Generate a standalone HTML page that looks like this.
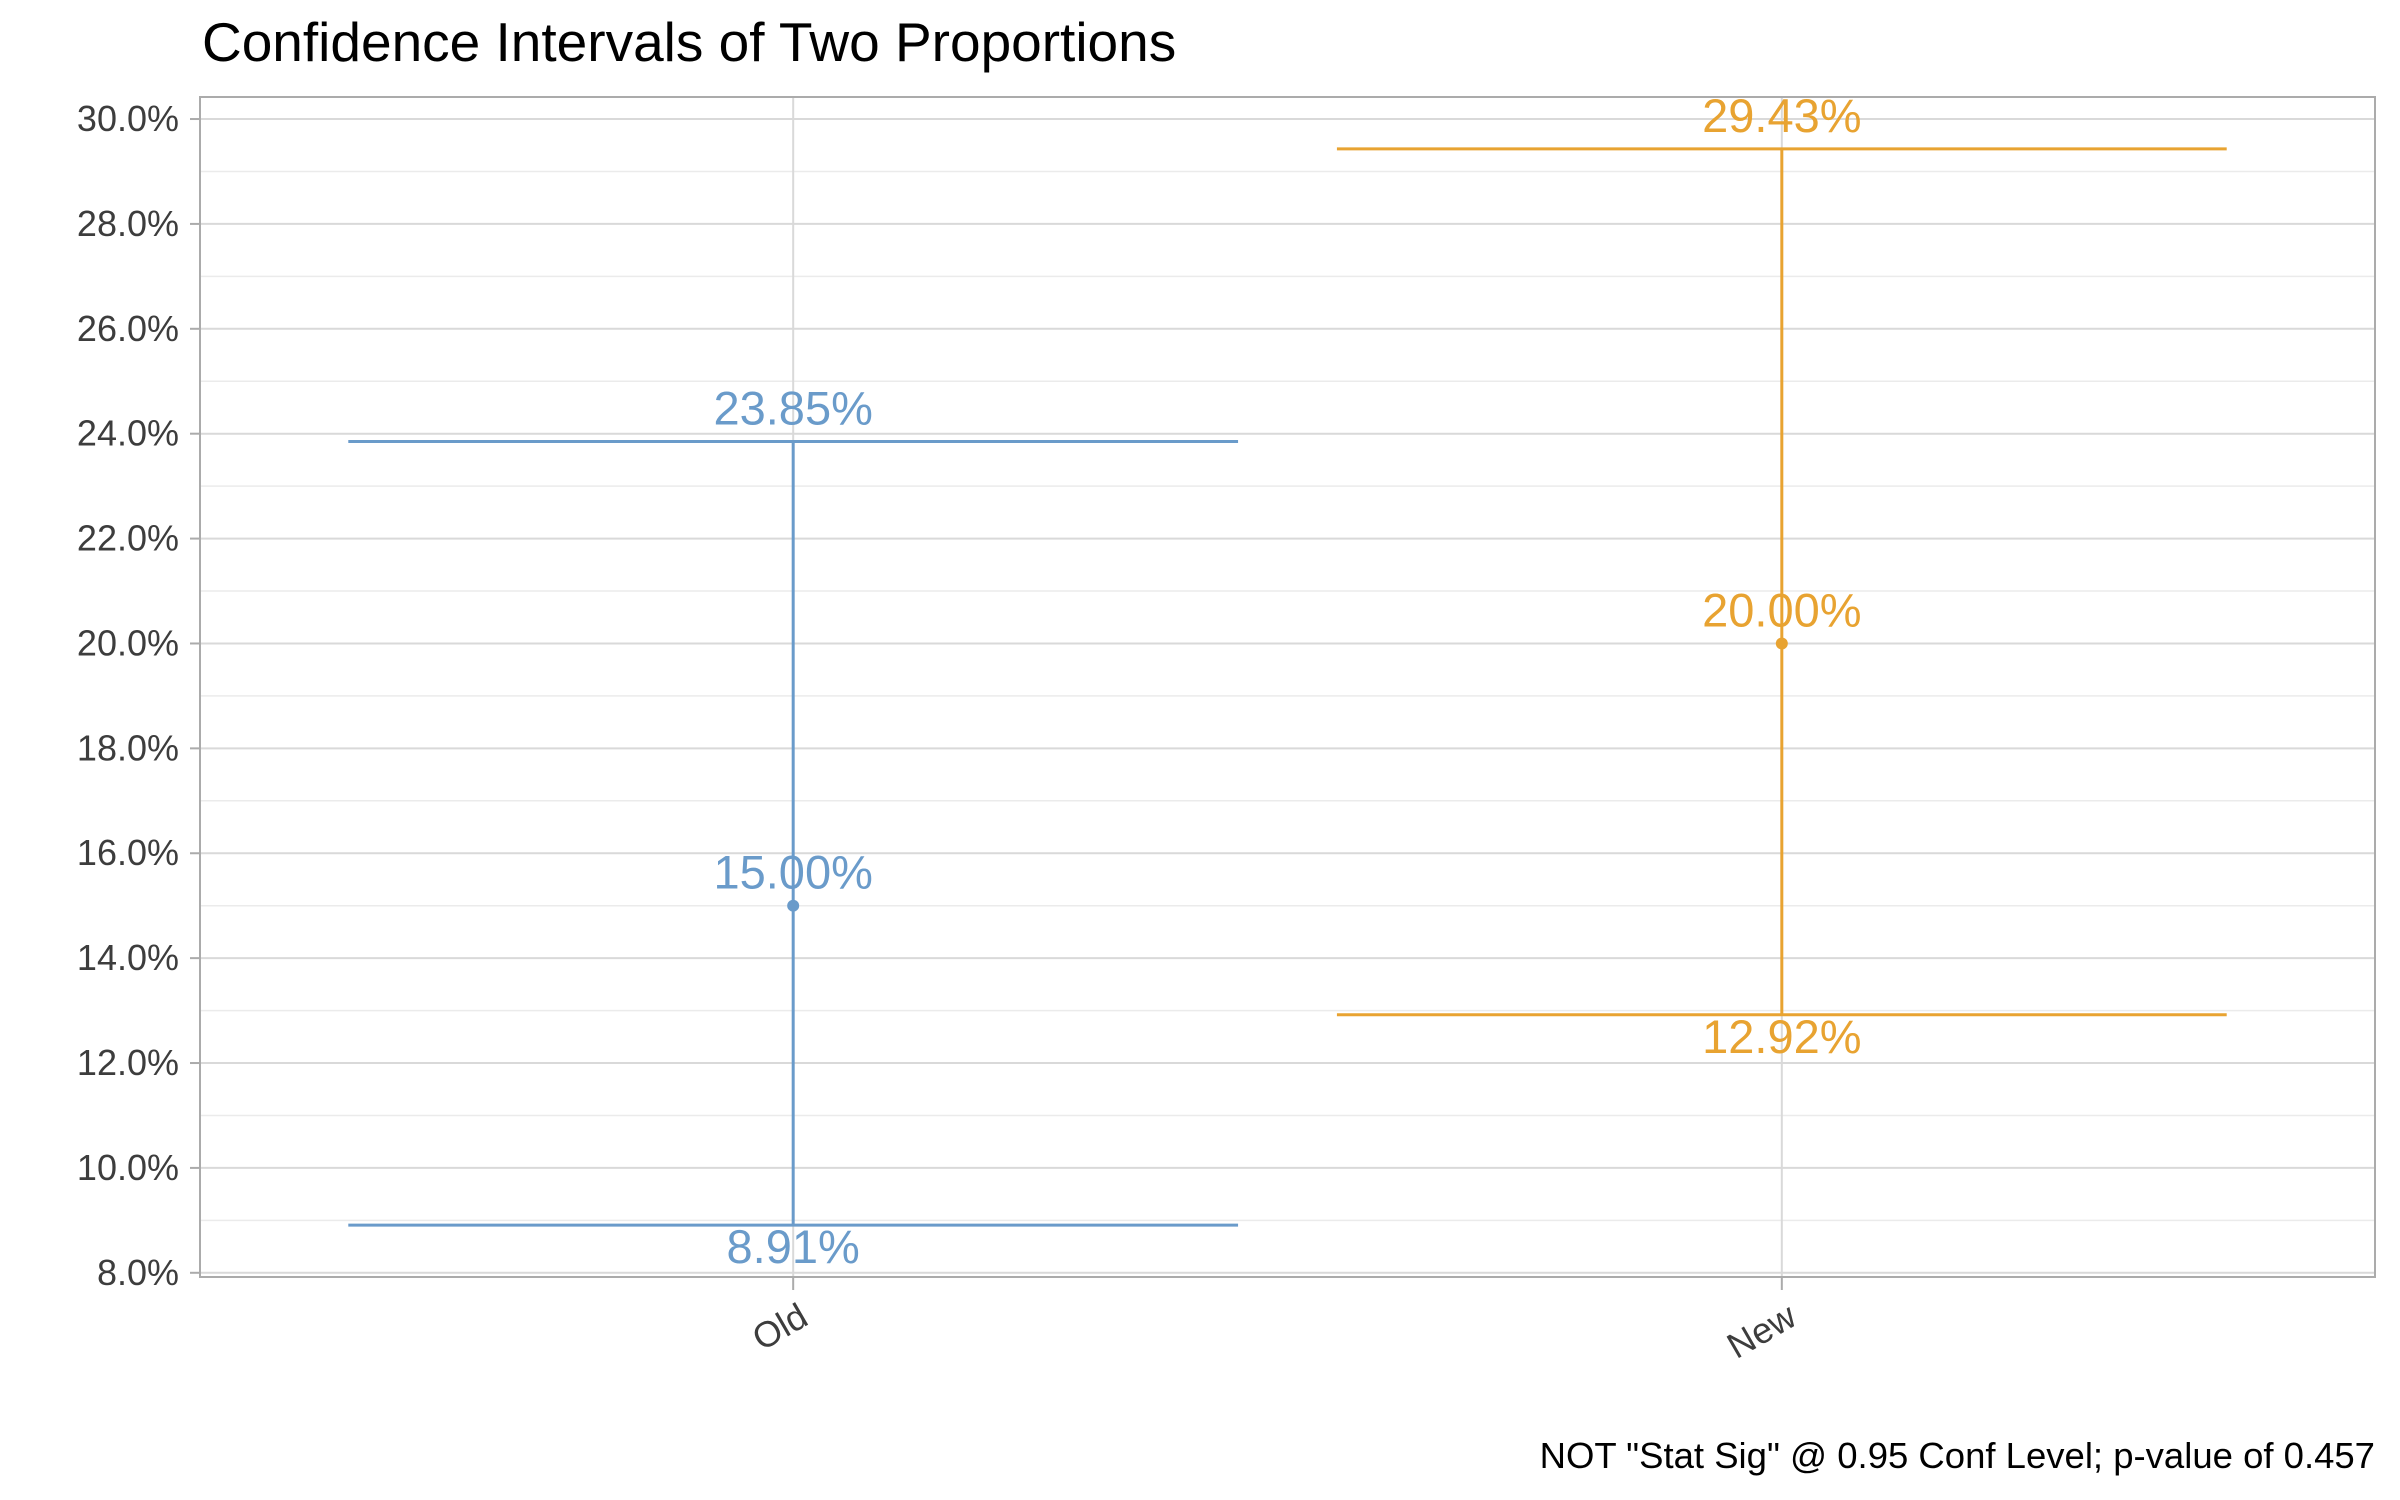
<!DOCTYPE html>
<html><head><meta charset="utf-8"><style>
html,body{margin:0;padding:0;background:#fff;}
svg{display:block;font-family:"Liberation Sans",Arial,sans-serif;}
</style></head><body>
<svg id="chart" width="2400" height="1500" viewBox="0 0 2400 1500" xmlns="http://www.w3.org/2000/svg">
<text x="202" y="61" font-size="55" fill="#000">Confidence Intervals of Two Proportions</text>
<g id="grid"></g>
<g id="marks"></g>
<rect x="200" y="97" width="2175" height="1180" fill="none" stroke="#ababab" stroke-width="2"/>
<g id="axes"></g>
<text x="2375" y="1468" font-size="36.5" text-anchor="end" fill="#000">NOT "Stat Sig" @ 0.95 Conf Level; p-value of 0.457</text>
</svg>
<script>
const categories = ["Old", "New"];
const estimates = [15.00, 20.00];
const lowers = [8.91, 12.92];
const uppers = [23.85, 29.43];
const colors = ["#6a9bca", "#e8a331"];
const yTicks = [8, 10, 12, 14, 16, 18, 20, 22, 24, 26, 28, 30];
const yTickLabels = ["8.0%","10.0%","12.0%","14.0%","16.0%","18.0%","20.0%","22.0%","24.0%","26.0%","28.0%","30.0%"];

const NS = "http://www.w3.org/2000/svg";
const PL = 200, PR = 2375, PT = 97, PB = 1277;
const yMin = 7.92, yMax = 30.42;
function yS(v){ return PB - (v - yMin) / (yMax - yMin) * (PB - PT); }
const xLo = 0.4, xHi = categories.length + 0.6;
function xS(i){ return PL + (i + 1 - xLo) / (xHi - xLo) * (PR - PL); }
function mk(tag, attrs, parent){ const e = document.createElementNS(NS, tag); for (const k in attrs) e.setAttribute(k, attrs[k]); parent.appendChild(e); return e; }
const grid = document.getElementById('grid');
const marks = document.getElementById('marks');
const axes = document.getElementById('axes');

for (let k = 0; k < yTicks.length - 1; k++) {
  const v = (yTicks[k] + yTicks[k+1]) / 2;
  const l = mk('line', {x1:PL, x2:PR, y1:yS(v), y2:yS(v), stroke:'#ebebeb', 'stroke-width':1.5}, grid);
  
  
}
yTicks.forEach((v, k) => {
  const y = yS(v);
  const l = mk('line', {x1:PL, x2:PR, y1:y, y2:y, stroke:'#d9d9d9', 'stroke-width':2}, grid);
  
  
  const t = mk('line', {x1:190, x2:PL, y1:y, y2:y, stroke:'#ababab', 'stroke-width':2}, axes);
  
  
  const tx = mk('text', {x:179, y:y + 12, 'font-size':36, 'text-anchor':'end', fill:'#3d3d3d'}, axes);
  tx.textContent = yTickLabels[k];
  
  
});
categories.forEach((c, i) => {
  const x = xS(i);
  const l = mk('line', {x1:x, x2:x, y1:PT, y2:PB, stroke:'#d9d9d9', 'stroke-width':2}, grid);
  
  
  const t = mk('line', {x1:x, x2:x, y1:PB, y2:PB + 13, stroke:'#ababab', 'stroke-width':2}, axes);
  
  
  const tx = mk('text', {x:0, y:0, 'font-size':36, 'text-anchor':'end', fill:'#3d3d3d', transform:'translate(' + (x + 4) + ',' + (PB + 24) + ') rotate(-30) translate(0,26)'}, axes);
  tx.textContent = c;
  
  
});
const half = 0.45 / (xHi - xLo) * (PR - PL);
categories.forEach((c, i) => {
  const x = xS(i), col = colors[i];
  const g = mk('g', {}, marks);
  
  
  const v = mk('line', {x1:x, x2:x, y1:yS(lowers[i]), y2:yS(uppers[i]), stroke:col, 'stroke-width':3}, g);
  
  
  [lowers[i], uppers[i]].forEach((val, j) => {
    const h = mk('line', {x1:x - half, x2:x + half, y1:yS(val), y2:yS(val), stroke:col, 'stroke-width':3}, g);
    
    
  });
  const p = mk('circle', {cx:x, cy:yS(estimates[i]), r:6, fill:col}, g);
  
  
  const lab = [[uppers[i], -17, 'upper-label'], [estimates[i], -17, 'estimate-label'], [lowers[i], 38, 'lower-label']];
  lab.forEach(([val, dy, nm]) => {
    const t = mk('text', {x:x, y:yS(val) + dy, 'font-size':47, 'text-anchor':'middle', fill:col}, g);
    t.textContent = val.toFixed(2) + '%';
    
    
  });
});
</script>
</body></html>
